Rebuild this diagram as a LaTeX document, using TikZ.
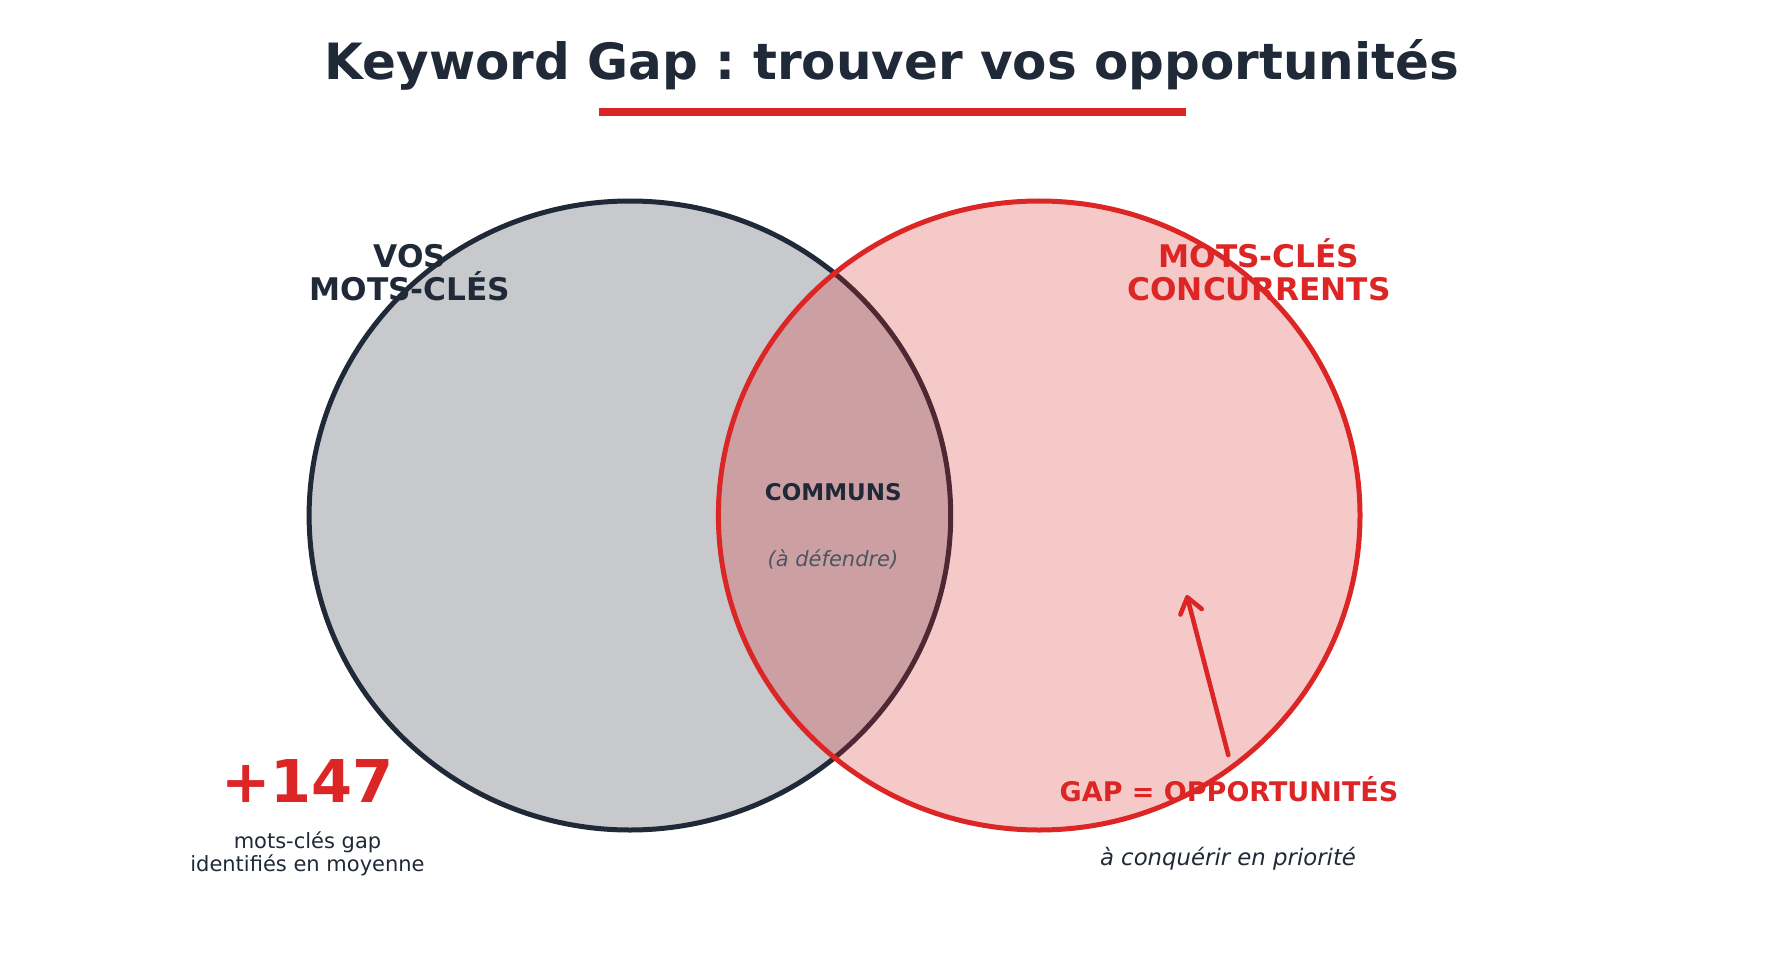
\documentclass[tikz,border=0pt]{standalone}
\usepackage{fontspec}
\setmainfont{DejaVu Sans}
\frenchspacing
\usetikzlibrary{arrows.meta}
\definecolor{navy}{HTML}{1F2937}
\definecolor{gapred}{HTML}{DC2626}
\definecolor{slate}{HTML}{4B5563}

\begin{document}
\begin{tikzpicture}[
      x=1pt, y=-1pt,
      setring/.style={line width=5pt, fill opacity=0.25},
      setname/.style={font=\fontsize{31.2}{33.3}\selectfont\bfseries,
                      align=center, inner sep=0pt, anchor=base},
      note/.style={font=\fontsize{21}{23.7}\selectfont, align=center,
                   inner sep=0pt, anchor=base},
      >={Straight Barb[length=15pt,width=22pt,round]}
    ]
    \useasboundingbox (0,0) rectangle (1785,960);

    % --- title ---------------------------------------------------------------
    \node[anchor=base, inner sep=0pt, text=navy,
          font=\fontsize{50}{60}\selectfont\bfseries] (title) at (892,79.3)
          {Keyword Gap : trouver vos opportunités};
    \coordinate (rulel) at (598.5,112);
    \coordinate (ruler) at (1186,112);
    \draw[gapred, line width=7.5pt] (rulel) -- (ruler);

    % --- the two sets --------------------------------------------------------
    \coordinate (ours)   at (629.9,515.5);
    \coordinate (theirs) at (1039.2,515.5);
    \draw[setring, draw=navy, fill=navy] (ours)
          ellipse [x radius=320.8pt, y radius=314.5pt];
    \draw[setring, draw=gapred, fill=gapred] (theirs)
          ellipse [x radius=320.8pt, y radius=314.5pt];

    % --- set names (base = last line) ----------------------------------------
    \node[setname, text=navy]   (oursname)   at (410,300.5)  {VOS\\MOTS-CLÉS};
    \node[setname, text=gapred] (theirsname) at (1259,300.5) {MOTS-CLÉS\\CONCURRENTS};

    % --- overlap -------------------------------------------------------------
    \node[anchor=base, inner sep=0pt, text=navy,
          font=\fontsize{23}{28}\selectfont\bfseries] (common) at (833.3,500.3) {COMMUNS};
    \node[note, text=slate, font=\fontsize{21}{24}\selectfont\itshape]
          (defend) at (833,566) {(à défendre)};

    % --- gap count -----------------------------------------------------------
    \node[anchor=base, inner sep=0pt, text=gapred,
          font=\fontsize{59}{70}\selectfont\bfseries] (count) at (307.5,802.7) {+147};
    \node[note, text=navy] (countnote) at (307.5,871.7) {mots-clés gap\\identifiés en moyenne};

    % --- gap callout ---------------------------------------------------------
    \node[anchor=base, inner sep=0pt, text=gapred,
          font=\fontsize{27}{32}\selectfont\bfseries] (gap) at (1229,801.7)
          {GAP = OPPORTUNITÉS};
    \node[note, text=navy, font=\fontsize{22.8}{27}\selectfont\itshape]
          (conquer) at (1228,865) {à conquérir en priorité};
    \coordinate (gaptail) at (1228.3,755);
    \coordinate (gaptip)  at (1186.7,595);
    \draw[->, gapred, line width=4.6pt, line cap=round] (gaptail) -- (gaptip);
  \end{tikzpicture}
\end{document}
